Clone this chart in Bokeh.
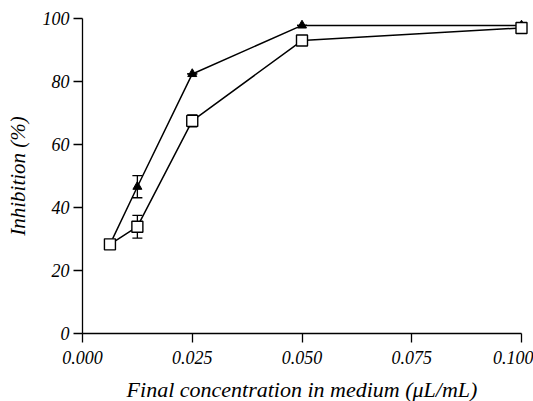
from bokeh.plotting import figure
from bokeh.models import Range1d, FixedTicker, Whisker, ColumnDataSource
from bokeh.embed import file_html
from bokeh.resources import INLINE

# data
conc = [0.00625, 0.0125, 0.025, 0.05, 0.1]
tri_vals = [28.3, 46.6, 82.4, 97.8, 97.8]
tri_err = [0.0, 3.5, 0.0, 0.0, 0.0]
sq_vals = [28.3, 33.9, 67.5, 93.0, 97.0]
sq_err = [0.0, 3.6, 1.9, 0.0, 1.0]
x_ticks = [0.0, 0.025, 0.05, 0.075, 0.1]
x_tick_labels = ["0.000", "0.025", "0.050", "0.075", "0.100"]
y_ticks = [0, 20, 40, 60, 80, 100]
x_title = "Final concentration in medium (μL/mL)"
y_title = "Inhibition (%)"

FONT = "Liberation Serif"
PX_PER_Y = 315 / 100    # vertical pixels per % inhibition
PX_PER_X = 439 / 0.1    # horizontal pixels per uL/mL

p = figure(width=533, height=401, output_backend="svg", toolbar_location=None,
           x_range=Range1d(-82 / PX_PER_X, 0.1 + 12 / PX_PER_X),
           y_range=Range1d(-68 / PX_PER_Y, 100 + 18 / PX_PER_Y),
           min_border_left=0, min_border_right=0, min_border_top=0, min_border_bottom=0)
p.outline_line_color = None
p.xgrid.visible = False
p.ygrid.visible = False
p.background_fill_color = "white"
p.border_fill_color = "white"

for ax in (p.xaxis[0], p.yaxis[0]):
    ax.axis_line_color = "black"
    ax.axis_line_width = 1.3
    ax.major_tick_line_color = "black"
    ax.major_tick_line_width = 1.3
    ax.major_tick_out = 9
    ax.major_tick_in = 0
    ax.minor_tick_line_color = None
    ax.major_label_text_font = FONT
    ax.major_label_text_font_style = "italic"
    ax.major_label_text_font_size = "18px"
    ax.major_label_text_color = "black"
    ax.axis_label_text_font = FONT
    ax.axis_label_text_font_style = "italic"
    ax.axis_label_text_font_size = "22px"
    ax.axis_label_text_color = "black"

p.yaxis.axis_label_text_font_size = "21px"
p.xaxis.fixed_location = 0
p.yaxis.fixed_location = 0
p.xaxis.bounds = (0, 0.1)
p.yaxis.bounds = (0, 100)
p.xaxis.ticker = FixedTicker(ticks=x_ticks)
p.xaxis.major_label_overrides = {t: l for t, l in zip(x_ticks, x_tick_labels)}
p.yaxis.ticker = FixedTicker(ticks=y_ticks)
p.xaxis.major_label_standoff = 8
p.yaxis.major_label_standoff = 4
p.xaxis.axis_label = x_title
p.yaxis.axis_label = y_title
p.xaxis.axis_label_standoff = 10
p.yaxis.axis_label_standoff = 10

tri_src = ColumnDataSource(dict(x=conc, y=tri_vals,
                                lo=[v - e for v, e in zip(tri_vals, tri_err)],
                                hi=[v + e for v, e in zip(tri_vals, tri_err)]))
sq_src = ColumnDataSource(dict(x=conc, y=sq_vals,
                               lo=[v - e for v, e in zip(sq_vals, sq_err)],
                               hi=[v + e for v, e in zip(sq_vals, sq_err)]))

p.line("x", "y", source=tri_src, line_color="black", line_width=1.5)
p.line("x", "y", source=sq_src, line_color="black", line_width=1.5)

for src in (tri_src, sq_src):
    w = Whisker(source=src, base="x", lower="lo", upper="hi", line_color="black", line_width=1.3)
    w.upper_head.size = 10
    w.lower_head.size = 10
    w.upper_head.line_width = 1.3
    w.lower_head.line_width = 1.3
    p.add_layout(w)

p.scatter("x", "y", source=tri_src, marker="triangle", size=9, fill_color="black", line_color="black")
p.scatter("x", "y", source=sq_src, marker="square", size=11, fill_color="white",
          line_color="black", line_width=1.4)

open("out.html", "w").write(file_html(p, INLINE))
